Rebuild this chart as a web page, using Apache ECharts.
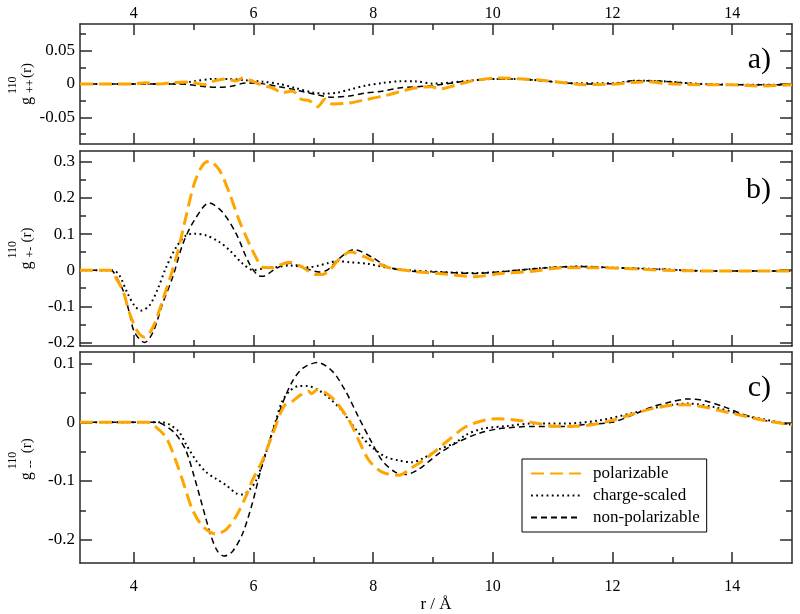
<!DOCTYPE html>
<html><head><meta charset="utf-8">
<script src="https://cdn.jsdelivr.net/npm/echarts@6/dist/echarts.min.js"></script>
<style>html,body{margin:0;padding:0;background:#fff}#c{width:800px;height:614px}</style>
</head><body><div id="c"></div>
<script>
// ---------- data ----------
const seriesNames = ['polarizable', 'charge-scaled', 'non-polarizable'];
const panelLetters = ['a)', 'b)', 'c)'];
const panelSubs = ['++', '+-', '--'];
const xMajorTicks = [4, 6, 8, 10, 12, 14];
const xMinorTicks = [5, 7, 9, 11, 13];
const yMajorA = [-0.05, 0, 0.05];
const yMinorA = [-0.075, -0.025, 0.025, 0.075];
const yMajorB = [-0.2, -0.1, 0, 0.1, 0.2, 0.3];
const yMinorB = [-0.15, -0.05, 0.05, 0.15, 0.25];
const yMajorC = [-0.2, -0.1, 0, 0.1];
const yMinorC = [-0.15, -0.05, 0.05];

// panel a) g++
const rA_pol = [3.1, 4.0, 4.2, 4.43, 4.65, 4.93, 5.18, 5.32, 5.54, 5.71, 5.82, 5.93, 6.15, 6.32, 6.48, 6.65, 6.79, 6.93, 7.07, 7.2, 7.32, 7.6, 7.87, 8.15, 8.43, 8.7, 8.98, 9.1, 9.37, 9.65, 10.1, 10.5, 10.82, 11.2, 11.54, 12.05, 12.6, 12.85, 13.4, 13.98, 14.43, 15];
const gA_pol = [0, 0, 0.002, 0, 0.002, 0.003, -0.001, 0.004, 0.0075, 0.0045, 0.009, 0.006, -0.002, -0.006, -0.013, -0.0105, -0.0225, -0.025, -0.034, -0.0225, -0.03, -0.0285, -0.0235, -0.0185, -0.012, -0.006, -0.004, -0.0075, -0.002, 0.0045, 0.009, 0.0075, 0.0055, 0.002, -0.001, 0, 0.0035, 0.001, -0.001, -0.001, -0.003, -0.001];
const rA_cs = [3.1, 4.6, 4.93, 5.32, 5.6, 5.87, 6.15, 6.43, 6.7, 6.98, 7.2, 7.4, 7.6, 7.87, 8.15, 8.45, 8.7, 9.0, 9.5, 10.0, 10.4, 10.93, 11.48, 12.0, 12.4, 12.85, 13.4, 13.98, 15];
const gA_cs = [0, 0, 0.003, 0.0075, 0.0075, 0.0055, 0.0035, 0, -0.006, -0.0125, -0.0145, -0.013, -0.0085, -0.0025, 0.0015, 0.004, 0.004, 0.0005, 0.004, 0.0075, 0.0075, 0.004, 0.001, 0.001, 0.005, 0.004, 0.0005, -0.001, -0.001];
const rA_np = [3.1, 4.76, 4.93, 5.21, 5.43, 5.65, 5.87, 6.09, 6.43, 6.76, 7.1, 7.3, 7.6, 7.87, 8.15, 8.43, 8.98, 9.54, 10.0, 10.4, 10.93, 11.48, 12.0, 12.4, 12.85, 13.4, 13.98, 15];
const gA_np = [0, 0, -0.001, -0.004, -0.005, -0.003, 0.0015, 0.001, -0.004, -0.01, -0.017, -0.02, -0.018, -0.0135, -0.011, -0.006, -0.0025, 0.004, 0.0075, 0.0075, 0.004, 0, 0.0005, 0.005, 0.004, 0, -0.001, -0.001];

// panel b) g+-
const rB_pol = [3.1, 3.6, 3.71, 3.82, 3.93, 4.07, 4.18, 4.32, 4.48, 4.71, 4.87, 5.01, 5.15, 5.26, 5.43, 5.6, 5.76, 5.93, 6.04, 6.15, 6.32, 6.4, 6.6, 6.82, 7.04, 7.15, 7.26, 7.43, 7.62, 7.87, 8.05, 8.26, 8.65, 9.15, 9.7, 10.1, 10.65, 11.2, 11.7, 12.3, 12.85, 13.5, 15];
const gB_pol = [0, 0, -0.024, -0.058, -0.12, -0.172, -0.186, -0.158, -0.084, 0.036, 0.147, 0.24, 0.291, 0.302, 0.277, 0.212, 0.138, 0.073, 0.036, 0.008, 0.007, 0.012, 0.022, 0.008, -0.012, -0.012, -0.002, 0.03, 0.05, 0.036, 0.022, 0.007, -0.003, -0.01, -0.018, -0.01, -0.003, 0.007, 0.007, 0.004, 0, -0.002, -0.002];
const rB_cs = [3.1, 3.65, 3.76, 3.9, 4.01, 4.12, 4.26, 4.4, 4.54, 4.71, 4.87, 5.01, 5.21, 5.43, 5.6, 5.82, 6.0, 6.2, 6.37, 6.6, 6.9, 7.1, 7.23, 7.4, 7.6, 7.9, 8.2, 8.6, 9.0, 9.7, 10.1, 10.93, 11.48, 12.0, 12.9, 13.5, 15];
const gB_cs = [0, 0, -0.015, -0.066, -0.098, -0.112, -0.098, -0.052, 0.008, 0.064, 0.096, 0.101, 0.096, 0.078, 0.055, 0.018, 0.0, 0.006, 0.008, 0.013, 0.008, 0.013, 0.019, 0.025, 0.022, 0.018, 0.008, 0.0, -0.004, -0.008, -0.005, 0.007, 0.01, 0.007, 0.002, -0.002, -0.002];
const rB_np = [3.1, 3.6, 3.65, 3.82, 3.93, 4.01, 4.18, 4.32, 4.48, 4.65, 4.82, 5.01, 5.26, 5.48, 5.71, 5.93, 6.09, 6.15, 6.37, 6.6, 6.82, 7.1, 7.23, 7.43, 7.68, 7.98, 8.26, 8.65, 9.04, 9.7, 10.1, 10.93, 11.48, 12.0, 12.9, 13.5, 15];
const gB_np = [0, 0, -0.003, -0.056, -0.121, -0.172, -0.2, -0.172, -0.093, -0.019, 0.073, 0.138, 0.186, 0.161, 0.101, 0.018, -0.016, -0.017, 0.004, 0.019, 0.008, -0.005, 0, 0.032, 0.057, 0.036, 0.008, -0.003, -0.005, -0.009, -0.005, 0.007, 0.01, 0.007, 0.002, -0.002, -0.002];

// panel c) g--
const rC_pol = [3.1, 4.23, 4.37, 4.54, 4.7, 4.85, 4.98, 5.15, 5.37, 5.54, 5.71, 5.87, 5.98, 6.15, 6.32, 6.51, 6.65, 6.76, 6.84, 6.92, 6.97, 7.07, 7.21, 7.37, 7.6, 7.76, 7.93, 8.15, 8.43, 8.65, 8.93, 9.26, 9.54, 9.87, 10.1, 10.37, 10.65, 10.98, 11.32, 11.65, 11.98, 12.3, 12.65, 12.98, 13.26, 13.54, 13.88, 14.2, 14.55, 15];
const gC_pol = [0, 0, -0.008, -0.026, -0.065, -0.11, -0.149, -0.177, -0.19, -0.183, -0.16, -0.127, -0.099, -0.065, -0.02, 0.028, 0.036, 0.045, 0.05, 0.053, 0.049, 0.056, 0.05, 0.036, 0.003, -0.031, -0.065, -0.085, -0.09, -0.077, -0.058, -0.03, -0.008, 0.004, 0.006, 0.004, 0, -0.006, -0.007, -0.004, 0.003, 0.013, 0.023, 0.029, 0.03, 0.026, 0.018, 0.011, 0.003, -0.004];
const rC_cs = [3.1, 4.48, 4.6, 4.76, 4.87, 5.04, 5.21, 5.37, 5.54, 5.71, 5.82, 5.93, 6.04, 6.15, 6.27, 6.37, 6.48, 6.6, 6.76, 6.9, 7.07, 7.26, 7.46, 7.62, 7.82, 8.01, 8.21, 8.43, 8.65, 8.82, 9.1, 9.37, 9.54, 9.82, 10.26, 10.65, 11.2, 11.76, 12.3, 12.76, 13.26, 13.7, 14.2, 15];
const gC_cs = [0, 0, -0.004, -0.017, -0.037, -0.065, -0.085, -0.096, -0.107, -0.121, -0.123, -0.115, -0.1, -0.07, -0.032, 0.002, 0.036, 0.053, 0.062, 0.062, 0.056, 0.042, 0.022, 0, -0.026, -0.045, -0.059, -0.065, -0.068, -0.062, -0.046, -0.035, -0.022, -0.011, -0.006, -0.002, -0.002, 0.003, 0.015, 0.026, 0.032, 0.026, 0.012, -0.004];
const rC_np = [3.1, 4.37, 4.48, 4.7, 4.87, 5.01, 5.15, 5.29, 5.4, 5.51, 5.65, 5.82, 5.98, 6.12, 6.25, 6.37, 6.51, 6.65, 6.82, 7.07, 7.32, 7.54, 7.76, 7.96, 8.15, 8.37, 8.54, 8.76, 9.1, 9.43, 9.76, 10.1, 10.65, 11.2, 11.5, 11.98, 12.3, 12.65, 12.98, 13.26, 13.54, 13.88, 14.2, 14.55, 15];
const gC_np = [0, 0, -0.003, -0.02, -0.048, -0.093, -0.144, -0.194, -0.22, -0.228, -0.22, -0.189, -0.138, -0.082, -0.036, 0, 0.039, 0.07, 0.092, 0.102, 0.087, 0.053, 0.008, -0.031, -0.065, -0.085, -0.089, -0.08, -0.053, -0.033, -0.019, -0.011, -0.007, -0.007, -0.004, 0, 0.011, 0.026, 0.035, 0.04, 0.037, 0.026, 0.013, 0.003, -0.004];

// ---------- chart ----------
const FONT = '"Liberation Serif", "DejaVu Serif", serif';
const AX = '#2a2a2a';
const ORANGE = '#FFA500';
const xMin = 3.1, xMax = 15;
const panels = [
  { top: 24, height: 120, min: -0.09, max: 0.09, major: yMajorA, minor: yMinorA,
    data: [[rA_pol, gA_pol], [rA_cs, gA_cs], [rA_np, gA_np]] },
  { top: 151, height: 195, min: -0.21, max: 0.33, major: yMajorB, minor: yMinorB,
    data: [[rB_pol, gB_pol], [rB_cs, gB_cs], [rB_np, gB_np]] },
  { top: 352, height: 214.5, min: -0.24, max: 0.12, major: yMajorC, minor: yMinorC,
    data: [[rC_pol, gC_pol], [rC_cs, gC_cs], [rC_np, gC_np]] }
];
const lineStyles = [
  { color: ORANGE, width: 3, type: [13, 6] },
  { color: '#000', width: 2, type: [1.8, 3.4] },
  { color: '#000', width: 1.5, type: [6, 4] }
];
const zip = (xs, ys) => xs.map((x, k) => [x, ys[k]]);
const fmt = v => { const s = +(+v).toFixed(3); return s === 0 ? '0' : String(s); };

const grid = [], xAxis = [], yAxis = [], series = [];
panels.forEach((p, i) => {
  grid.push({ left: 80, right: 8, top: p.top, height: p.height });
  const xc = { gridIndex: i, type: 'value', min: xMin, max: xMax, splitLine: { show: false } };
  const lineOn = { show: true, onZero: false, lineStyle: { color: AX, width: 1.5 } };
  const lineOff = { show: false, onZero: false };
  const lbl = (show, margin) => show ? { show: true, customValues: xMajorTicks, margin: margin, fontFamily: FONT, fontSize: 16, color: '#000' } : { show: false };
  xAxis.push(Object.assign({}, xc, { position: 'bottom', axisLine: lineOn,
    axisTick: { show: true, inside: true, length: 11, customValues: xMajorTicks, lineStyle: { color: AX, width: 1.5 } },
    axisLabel: lbl(i === 2, 16),
    name: i === 2 ? 'r / Å' : '', nameLocation: 'middle', nameGap: 32,
    nameTextStyle: { fontFamily: FONT, fontSize: 17, color: '#000' } }));
  xAxis.push(Object.assign({}, xc, { position: 'top', axisLine: lineOn,
    axisTick: { show: true, inside: true, length: 11, customValues: xMajorTicks, lineStyle: { color: AX, width: 1.5 } },
    axisLabel: lbl(i === 0, 2) }));
  xAxis.push(Object.assign({}, xc, { position: 'bottom', axisLine: lineOff,
    axisTick: { show: true, inside: true, length: 6, customValues: xMinorTicks, lineStyle: { color: AX, width: 1.5 } },
    axisLabel: { show: false } }));
  xAxis.push(Object.assign({}, xc, { position: 'top', axisLine: lineOff,
    axisTick: { show: true, inside: true, length: 6, customValues: xMinorTicks, lineStyle: { color: AX, width: 1.5 } },
    axisLabel: { show: false } }));

  const yc = { gridIndex: i, type: 'value', min: p.min, max: p.max, splitLine: { show: false } };
  yAxis.push(Object.assign({}, yc, { position: 'left', axisLine: lineOn,
    axisTick: { show: true, inside: true, length: 12, customValues: p.major, lineStyle: { color: AX, width: 1.5 } },
    axisLabel: { show: true, customValues: p.major, formatter: fmt, margin: 5, fontFamily: FONT, fontSize: 17, color: '#000' } }));
  yAxis.push(Object.assign({}, yc, { position: 'right', axisLine: lineOn,
    axisTick: { show: true, inside: true, length: 12, customValues: p.major, lineStyle: { color: AX, width: 1.5 } },
    axisLabel: { show: false } }));
  yAxis.push(Object.assign({}, yc, { position: 'left', axisLine: lineOff,
    axisTick: { show: true, inside: true, length: 6, customValues: p.minor, lineStyle: { color: AX, width: 1.5 } },
    axisLabel: { show: false } }));
  yAxis.push(Object.assign({}, yc, { position: 'right', axisLine: lineOff,
    axisTick: { show: true, inside: true, length: 6, customValues: p.minor, lineStyle: { color: AX, width: 1.5 } },
    axisLabel: { show: false } }));

  // draw order: dotted, dashed black, then orange on top
  [1, 2, 0].forEach(s => {
    series.push({
      type: 'line', name: seriesNames[s], xAxisIndex: 4 * i, yAxisIndex: 4 * i,
      data: zip(p.data[s][0], p.data[s][1]), smooth: 0.3, showSymbol: false, symbol: 'none',
      lineStyle: lineStyles[s], itemStyle: { color: lineStyles[s].color },
      z: s === 0 ? 4 : 3, animation: false
    });
  });
});

function yTitle(cy, sub) {
  const t = (text, x, y, size) => ({ type: 'text', x: x, y: y, style: {
    text: text, font: size + 'px ' + FONT, fill: '#000',
    align: 'left', textAlign: 'left', verticalAlign: 'middle', textVerticalAlign: 'middle' } });
  return { type: 'group', x: 27, y: cy, rotation: Math.PI / 2, children: [
    t('g', -21, 0, 16), t('110', -10, -14, 12), t(sub, -9, 4, 12), t('(r)', 6, 0, 15)
  ] };
}
const letterY = [60, 190, 388];
const graphic = [];
panels.forEach((p, i) => {
  graphic.push(yTitle(p.top + p.height / 2, panelSubs[i]));
  graphic.push({ type: 'text', x: 771, y: letterY[i], style: {
    text: panelLetters[i], font: '30px ' + FONT, fill: '#000',
    align: 'right', textAlign: 'right', verticalAlign: 'middle', textVerticalAlign: 'middle' } });
});

const chart = echarts.init(document.getElementById('c'), null, { renderer: 'canvas' });
chart.setOption({
  animation: false,
  backgroundColor: '#fff',
  grid: grid, xAxis: xAxis, yAxis: yAxis, series: series, graphic: graphic,
  legend: {
    data: seriesNames, orient: 'vertical', left: 522, top: 459,
    borderColor: '#000', borderWidth: 1, borderRadius: 0, backgroundColor: '#fff',
    padding: [6, 7, 6, 8], itemWidth: 50, itemHeight: 14, itemGap: 5,
    itemStyle: { opacity: 0, borderWidth: 0 },
    textStyle: { fontFamily: FONT, fontSize: 17, color: '#000', padding: [0, 0, 0, 7] },
    selectedMode: false
  }
});
</script></body></html>
